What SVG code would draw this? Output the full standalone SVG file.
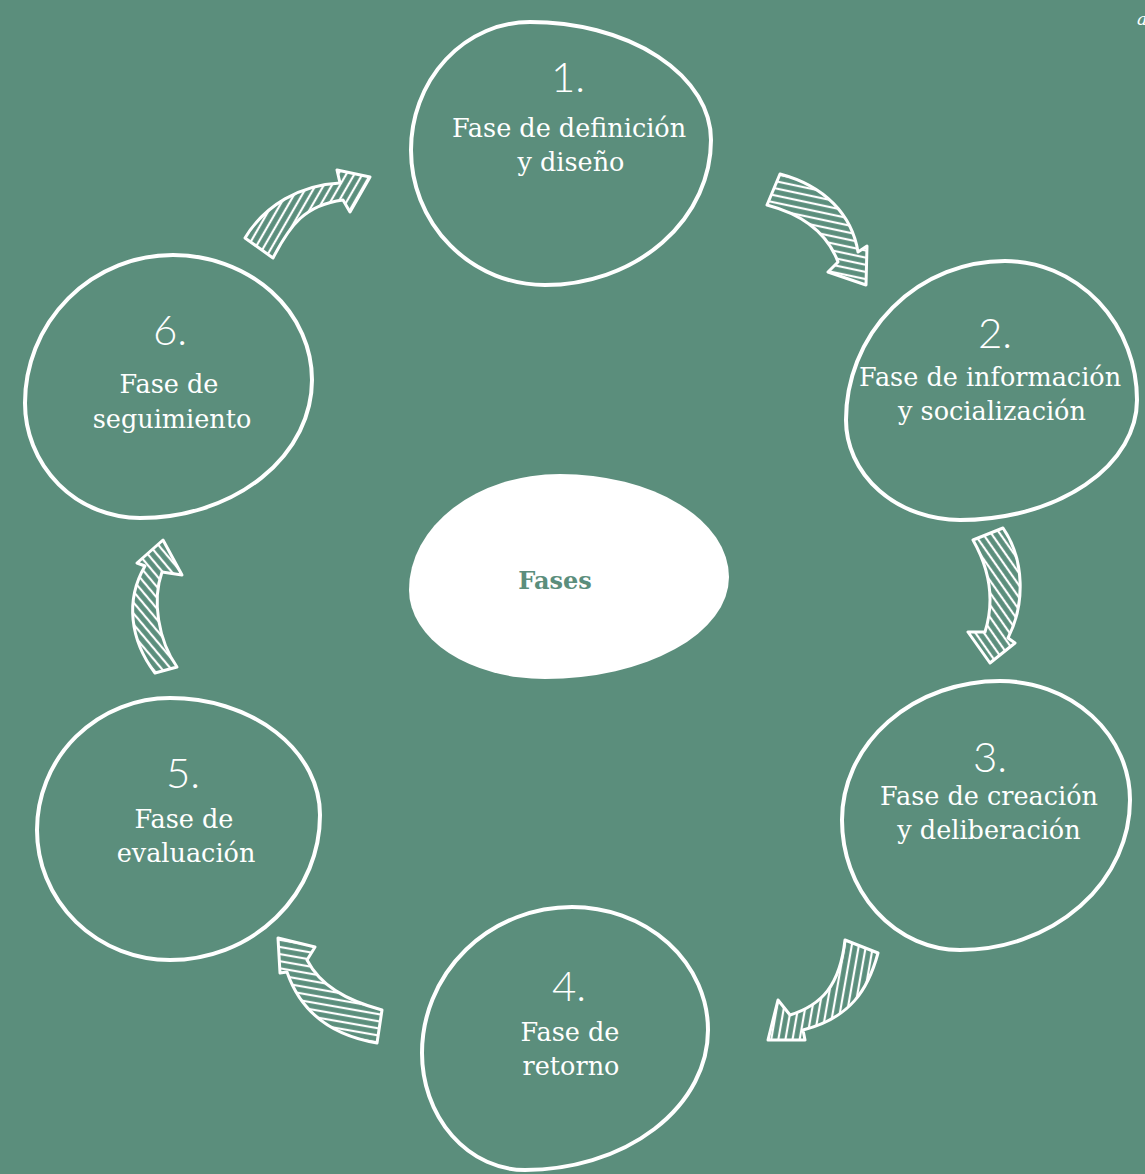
<svg xmlns="http://www.w3.org/2000/svg" width="1145" height="1174" viewBox="0 0 1145 1174">
<defs>
<style>
.bg{fill:#5b8e7c}
.ring{fill:none;stroke:#fff;stroke-width:4;stroke-linejoin:round}
.num{font-family:Lato,"DejaVu Sans",sans-serif;font-weight:300;font-size:42px;fill:#fff;text-anchor:middle}
.lbl{font-family:"DejaVu Serif","Liberation Serif",serif;font-size:25.5px;fill:#fff;text-anchor:middle}
.ctr{font-family:"DejaVu Serif","Liberation Serif",serif;font-weight:bold;font-size:24px;fill:#5b8e7c;text-anchor:middle}
.arr{stroke:#fff;stroke-width:3;stroke-linejoin:round}
.hl{stroke:#fff;stroke-width:2.2}
</style>
<pattern id="hA" patternUnits="userSpaceOnUse" width="7" height="7" patternTransform="rotate(102)"><line class="hl" x1="2" y1="-1" x2="2" y2="8"/></pattern>
<pattern id="hB" patternUnits="userSpaceOnUse" width="7" height="7" patternTransform="rotate(-35)"><line class="hl" x1="2" y1="-1" x2="2" y2="8"/></pattern>
<pattern id="hC" patternUnits="userSpaceOnUse" width="7" height="7" patternTransform="rotate(10)"><line class="hl" x1="2" y1="-1" x2="2" y2="8"/></pattern>
<pattern id="hD" patternUnits="userSpaceOnUse" width="7" height="7" patternTransform="rotate(100)"><line class="hl" x1="2" y1="-1" x2="2" y2="8"/></pattern>
<pattern id="hE" patternUnits="userSpaceOnUse" width="7" height="7" patternTransform="rotate(-40)"><line class="hl" x1="2" y1="-1" x2="2" y2="8"/></pattern>
<pattern id="hF" patternUnits="userSpaceOnUse" width="7" height="7" patternTransform="rotate(30)"><line class="hl" x1="2" y1="-1" x2="2" y2="8"/></pattern>
</defs>
<rect class="bg" x="0" y="0" width="1145" height="1174"/>
<text x="1137" y="25" font-family="'DejaVu Serif',serif" font-style="italic" font-size="17" fill="#fff">a</text>

<g id="connectors">
<path class="arr" fill="url(#hA)" d="M780,174 C825,186 852,215 858,252 L867,246 L866,285 L828,272 L838,262 C828,235 805,215 767,205 Z"/>
<path class="arr" fill="url(#hB)" d="M973,540 L1003,528 C1025,560 1025,605 1008,638 L1015,643 L990,663 L968,632 L985,632 C995,600 990,570 973,540 Z"/>
<path class="arr" fill="url(#hC)" d="M845,940 L878,953 C868,990 850,1018 803,1030 L805,1040 L768,1040 L778,1000 L790,1015 C822,1005 840,985 845,940 Z"/>
<path class="arr" fill="url(#hD)" d="M278,938 L315,947 L307,960 C320,985 345,1000 382,1010 L377,1043 C330,1035 300,1010 287,972 L280,973 Z"/>
<path class="arr" fill="url(#hE)" d="M163,540 L182,575 L162,572 C152,600 158,640 177,667 L155,673 C130,640 125,600 145,566 L137,563 Z"/>
<path class="arr" fill="url(#hF)" d="M245,238 C265,205 300,185 340,183 L337,170 L370,177 L350,212 L343,200 C305,205 290,225 273,258 Z"/>
</g>

<g id="node-center">
<path fill="#fff" d="M560,474 A169,103 0 0 1 729,577 A184,102 0 0 1 545,679 A136,89 0 0 1 409,590 A151,116 0 0 1 560,474 Z"/>
<text class="ctr" x="555" y="589">Fases</text>
</g>

<g id="node-1">
<path class="ring" d="M530,22 A181,118 0 0 1 711,140 A166,145 0 0 1 545,285 A134,135 0 0 1 411,150 A119,128 0 0 1 530,22 Z"/>
<text class="num" x="568" y="92">1.</text>
<text class="lbl" x="569" y="137">Fase de definición</text>
<text class="lbl" x="571" y="171">y diseño</text>
</g>

<g id="node-2">
<path class="ring" d="M1005,261 A132,139 0 0 1 1137,400 A177,120 0 0 1 960,520 A114,100 0 0 1 846,420 A159,159 0 0 1 1005,261 Z"/>
<text class="num" x="995" y="348">2.</text>
<text class="lbl" x="990" y="386">Fase de información</text>
<text class="lbl" x="992" y="420">y socialización</text>
</g>

<g id="node-3">
<path class="ring" d="M1000,681 A130,119 0 0 1 1130,800 A170,150 0 0 1 960,950 A118,130 0 0 1 842,820 A158,139 0 0 1 1000,681 Z"/>
<text class="num" x="990" y="772">3.</text>
<text class="lbl" x="989" y="805">Fase de creación</text>
<text class="lbl" x="989" y="839">y deliberación</text>
</g>

<g id="node-4">
<path class="ring" d="M572,907 A136,123 0 0 1 708,1030 A183,140 0 0 1 525,1170 A103,117 0 0 1 422,1053 A150,146 0 0 1 572,907 Z"/>
<text class="num" x="569" y="1001">4.</text>
<text class="lbl" x="570" y="1041">Fase de</text>
<text class="lbl" x="571" y="1075">retorno</text>
</g>

<g id="node-5">
<path class="ring" d="M170,698 A150,117 0 0 1 320,815 A150,145 0 0 1 170,960 A133,130 0 0 1 37,830 A133,132 0 0 1 170,698 Z"/>
<text class="num" x="183" y="788">5.</text>
<text class="lbl" x="184" y="828">Fase de</text>
<text class="lbl" x="186" y="862">evaluación</text>
</g>

<g id="node-6">
<path class="ring" d="M173,255 A139,125 0 0 1 312,380 A172,138 0 0 1 140,518 A115,115 0 0 1 25,403 A148,148 0 0 1 173,255 Z"/>
<text class="num" x="170" y="345">6.</text>
<text class="lbl" x="169" y="393">Fase de</text>
<text class="lbl" x="172" y="428">seguimiento</text>
</g>
</svg>
